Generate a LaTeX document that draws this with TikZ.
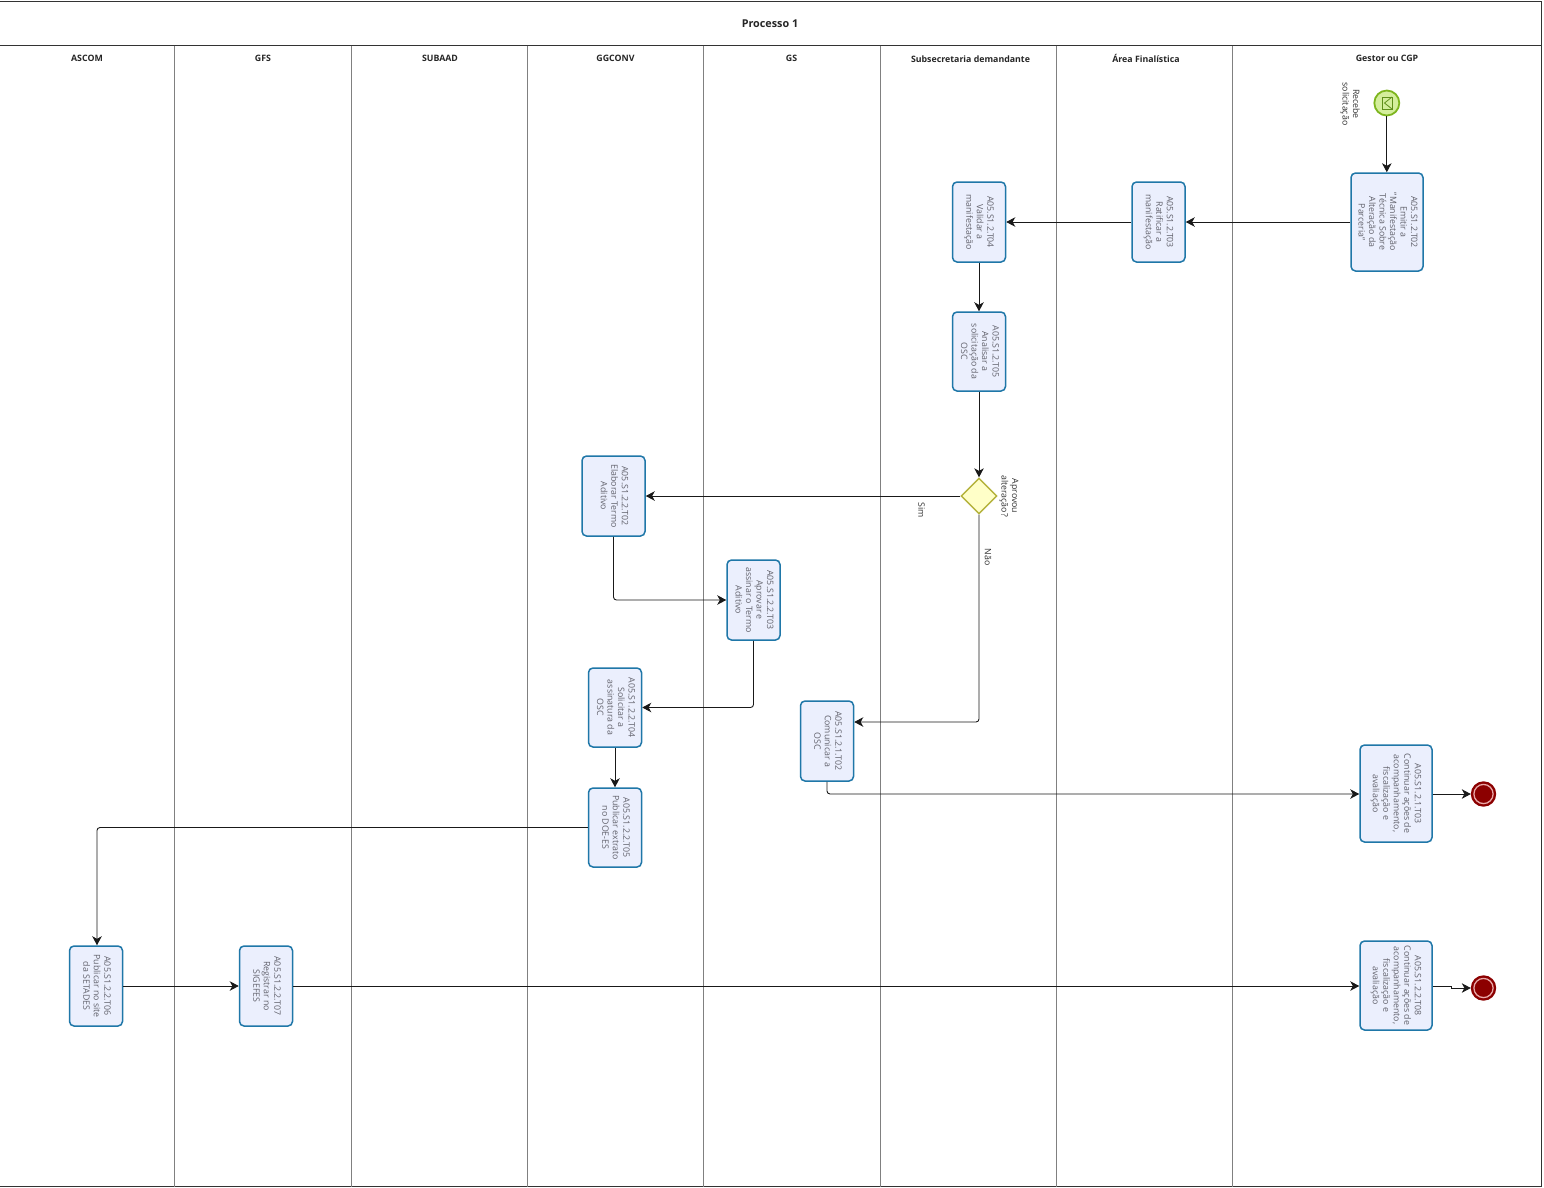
\documentclass[tikz,border=0pt]{standalone}
\usepackage{fontspec}
\setmainfont{Open Sans}
\usetikzlibrary{arrows.meta,shapes.geometric}
\definecolor{taskfill}{HTML}{EBEFFD}
\definecolor{taskline}{HTML}{1F77A8}
\definecolor{tasktext}{HTML}{62626C}
\definecolor{lanegray}{HTML}{808080}
\definecolor{gateline}{HTML}{B4B23C}
\definecolor{gatefill}{HTML}{FFFFC8}
\definecolor{startline}{HTML}{7DB51E}
\definecolor{startfill}{HTML}{D4EE9C}
\definecolor{startmark}{HTML}{5F8F1A}
\definecolor{endred}{HTML}{8C0000}
\definecolor{endring}{HTML}{E8A8A8}
\newcommand{\vtxt}[1]{\rotatebox{-90}{\begin{tabular}{@{}c@{}}#1\end{tabular}}}
\tikzset{
  x=1pt,y=-1pt,
  lane/.style={draw=lanegray,line width=1pt},
  frameline/.style={draw=black!80,line width=1pt},
  title/.style={font=\fontsize{10.8}{12}\selectfont\bfseries,text=black!85,inner sep=0},
  lanetitle/.style={font=\fontsize{8.8}{10}\selectfont\bfseries,text=black!85,inner sep=0},
  task/.style={draw=taskline,fill=taskfill,line width=1.5pt,rounded corners=4.5pt,inner sep=0,
    text=tasktext,font=\fontsize{8.8}{10.5}\selectfont,anchor=center},
  gate/.style={diamond,draw=gateline,fill=gatefill,line width=1.4pt,minimum width=36pt,minimum height=36pt,inner sep=0,aspect=1},
  startev/.style={circle,draw=startline,fill=startfill,line width=1.8pt,minimum size=25pt,inner sep=0},
  endev/.style={circle,draw=endred,fill=endred,line width=2.4pt,minimum size=23pt,inner sep=0},
  note/.style={text=black!80,font=\fontsize{8.8}{10.4}\selectfont,inner sep=0},
  flow/.style={draw=black!90,line width=.9pt,rounded corners=3pt,-{Stealth[length=9pt,width=9.5pt,inset=2.6pt]}},
}
\newcommand{\taskbox}[6]{% name, x1, y1, x2, y2, text
  \node[task,minimum width=#4pt-#2pt,minimum height=#5pt-#3pt] (#1) at ({(#2+#4)/2},{(#3+#5)/2}) {\vtxt{#6}};}
\begin{document}
\begin{tikzpicture}
\useasboundingbox (0,0) rectangle (1544,1187);
\fill[white] (0,0) rectangle (1544,1187);
% frame
\draw[frameline] (0,1) -- (1541,1) -- (1541,1186.5) -- (0,1186.5);
\draw[frameline] (0,45.5) -- (1541,45.5);
\foreach \xx in {174.95,351,527,703,880,1056,1232}{\draw[lane] (\xx,45.5) -- (\xx,1186.5);}
% titles
\node[title] (ttl) at (770,23.5) {Processo 1};
\node[lanetitle] (l1) at (87,58.7) {ASCOM};
\node[lanetitle] (l2) at (263,58.7) {GFS};
\node[lanetitle] (l3) at (440,58.7) {SUBAAD};
\node[lanetitle] (l4) at (615.5,58.7) {GGCONV};
\node[lanetitle] (l5) at (791.5,58.7) {GS};
\node[lanetitle] (l6) at (970.5,58.7) {Subsecretaria demandante};
\node[lanetitle] (l7) at (1146,58.7) {Área Finalística};
\node[lanetitle] (l8) at (1387,58.7) {Gestor ou CGP};
% events and gateway
\node[startev] (start) at (1386.8,103) {};
\draw[draw=startmark,fill=startfill,line width=.8pt] (1382,97) rectangle (1392,109);
\draw[draw=startmark,line width=.8pt] (1392,97) -- (1384.5,103) -- (1392,109);
\node[gate] (gw) at (979,496) {};
\node[endev] (end1) at (1483.5,794) {};
\draw[draw=endring,line width=1.3pt] (end1) circle (9.6pt);
\node[endev] (end2) at (1483.5,988) {};
\draw[draw=endring,line width=1.3pt] (end2) circle (9.6pt);
% tasks
\taskbox{a}{1351}{173}{1423}{271}{A05.S1.2.T02\\Emitir a\\"Manifestação\\Técnica Sobre\\Alteração da\\Parceria"}
\taskbox{b}{1132}{182}{1185}{262}{A05.S1.2.T03\\Ratificar a\\manifestação}
\taskbox{c}{952.5}{182}{1005.5}{262}{A05.S1.2.T04\\Validar a\\manifestação}
\taskbox{d}{952.5}{312}{1005.5}{391}{A05.S1.2.T05\\Analisar a\\solicitação da\\OSC}
\taskbox{e}{582}{456}{645}{536}{A05.S1.2.2.T02\\Elaborar Termo\\Aditivo}
\taskbox{f}{727}{560}{780}{640}{A05.S1.2.2.T03\\Aprovar e\\assinar o Termo\\Aditivo}
\taskbox{g}{588.5}{668}{641.5}{747}{A05.S1.2.2.T04\\Solicitar a\\assinatura da\\OSC}
\taskbox{h}{588.5}{788}{641.5}{867}{A05.S1.2.2.T05\\Publicar extrato\\no DOE-ES}
\taskbox{i}{800.5}{701}{853.5}{781}{A05.S1.2.1.T02\\Comunicar a\\OSC}
\taskbox{j}{1360}{745}{1432}{842}{A05.S1.2.1.T03\\Continuar ações de\\acompanhamento,\\fiscalização e\\avaliação}
\taskbox{k}{1360}{941}{1432}{1030}{A05.S1.2.2.T08\\Continuar ações de\\acompanhamento,\\fiscalização e\\avaliação}
\taskbox{m}{69.5}{946}{122.5}{1026}{A05.S1.2.2.T06\\Publicar no site\\da SETADES}
\taskbox{n}{239.5}{946}{292.5}{1026}{A05.S1.2.2.T07\\Registrar no\\SIGEFES}
% labels
\node[note] (lb1) at (1350,104) {\vtxt{Recebe\\solicitação}};
\node[note] (lb2) at (1009,496) {\vtxt{Aprovou\\alteração?}};
\node[note] (lb3) at (920.5,510) {\vtxt{Sim}};
\node[note] (lb4) at (987,557) {\vtxt{Não}};
% connectors
\draw[flow] (start.south) -- (start.south |- a.north);
\draw[flow] (a.west) -- (b.east);
\draw[flow] (b.west) -- (c.east);
\draw[flow] (c.south) -- (d.north);
\draw[flow] (d.south) -- (gw.north);
\draw[flow] (gw.west) -- (e.east);
\draw[flow] (e.south) |- (f.west);
\draw[flow] (f.south) |- (g.east);
\draw[flow] (g.south) -- (h.north);
\draw[flow] (h.west) -| ([xshift=1pt]m.north);
\draw[flow] (gw.south) |- ([yshift=19pt]i.east);
\draw[flow] (i.south) |- ([yshift=-.5pt]j.west);
\draw[flow] ([yshift=-.5pt]j.east) -- (end1.west);
\draw[flow] (m.east) -- (n.west);
\draw[flow] (n.east) -- (n.east -| k.west);
\draw[flow,rounded corners=0pt] ([yshift=-.5pt]k.east) -- ++(19,0) -- ++(0,2) -- (end2.west);
\end{tikzpicture}
\end{document}
